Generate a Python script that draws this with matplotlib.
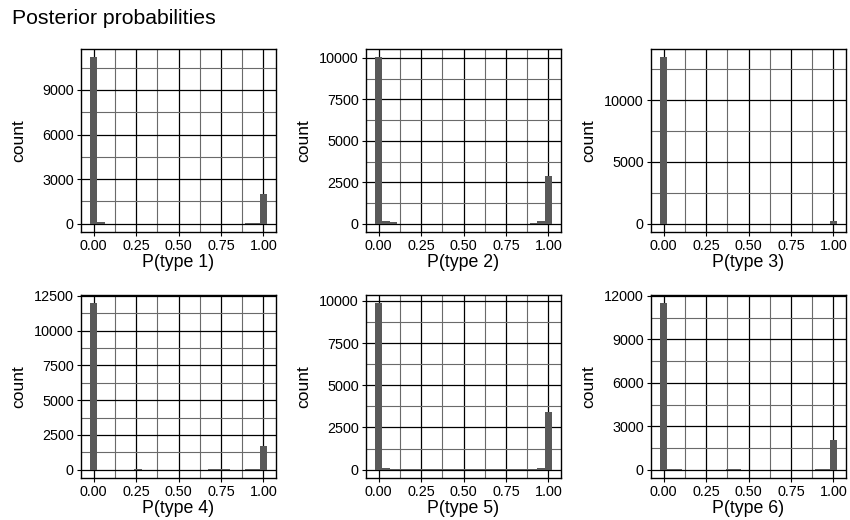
import matplotlib.pyplot as plt
import numpy as np

plt.rcParams['font.family'] = ['Liberation Sans', 'DejaVu Sans']

# 24 bins, centred on k/23
n_bins = 24
bin_width = 1 / 23
bin_centers = np.arange(n_bins) / 23

# counts per bin
counts_type1 = [11200, 90, 10, 5, 5, 5, 5, 5, 5, 5, 5, 5,
                5, 5, 5, 5, 5, 5, 5, 5, 10, 15, 70, 2030]
counts_type2 = [10040, 150, 80, 10, 5, 5, 5, 5, 5, 5, 5, 5,
                5, 5, 5, 5, 5, 5, 5, 10, 10, 20, 150, 2900]
counts_type3 = [13480, 5, 3, 3, 3, 3, 3, 3, 3, 3, 3, 3,
                3, 3, 3, 3, 3, 3, 3, 3, 3, 3, 5, 250]
counts_type4 = [11970, 10, 5, 5, 5, 5, 15, 5, 5, 5, 5, 5,
                5, 5, 5, 5, 15, 20, 15, 10, 10, 15, 20, 1725]
counts_type5 = [9850, 100, 30, 25, 20, 20, 20, 20, 20, 20, 20, 20,
                20, 20, 20, 20, 20, 20, 20, 20, 25, 30, 100, 3410]
counts_type6 = [11490, 20, 15, 10, 10, 10, 10, 10, 10, 15, 15, 10,
                10, 10, 10, 10, 10, 10, 10, 10, 10, 15, 20, 2070]

all_counts = [counts_type1, counts_type2, counts_type3,
              counts_type4, counts_type5, counts_type6]
x_labels = ["P(type 1)", "P(type 2)", "P(type 3)",
            "P(type 4)", "P(type 5)", "P(type 6)"]
y_breaks = [
    [0, 3000, 6000, 9000],
    [0, 2500, 5000, 7500, 10000],
    [0, 5000, 10000],
    [0, 2500, 5000, 7500, 10000, 12500],
    [0, 2500, 5000, 7500, 10000],
    [0, 3000, 6000, 9000, 12000],
]
x_breaks = [0, 0.25, 0.5, 0.75, 1.0]
x_tick_labels = ["0.00", "0.25", "0.50", "0.75", "1.00"]

W, H = 850, 520
fig = plt.figure(figsize=(W / 100, H / 100), dpi=100)

# panel boxes in pixels: left, top
lefts = [81, 366, 651]
tops = [49, 295]
pw, ph = 195, 183

fig.text(12 / W, 1 - 18 / H, "Posterior probabilities", fontsize=15.3,
         va='center', ha='left')

for i, counts in enumerate(all_counts):
    row, col = divmod(i, 3)
    l, t = lefts[col], tops[row]
    ax = fig.add_axes([l / W, 1 - (t + ph) / H, pw / W, ph / H])

    xlo = -bin_width / 2
    xhi = 1 + bin_width / 2
    xpad = (xhi - xlo) * 0.05
    ymax = max(counts)
    ax.set_xlim(xlo - xpad, xhi + xpad)
    ax.set_ylim(-ymax * 0.05, ymax * 1.05)

    # gridlines (theme_linedraw look)
    yb = y_breaks[i]
    step = yb[1] - yb[0]
    for v in x_breaks:
        ax.axvline(v, color='black', lw=0.9, zorder=1)
    for v in np.arange(0.125, 1.0, 0.25):
        ax.axvline(v, color='#6a6a6a', lw=0.8, zorder=1)
    for v in yb:
        ax.axhline(v, color='black', lw=0.9, zorder=1)
    m = step / 2
    while m < ymax * 1.05:
        ax.axhline(m, color='#6a6a6a', lw=0.8, zorder=1)
        m += step

    ax.bar(bin_centers, counts, width=bin_width, color='#595959', zorder=2)

    ax.set_xticks(x_breaks)
    ax.set_xticklabels(x_tick_labels)
    ax.set_yticks(yb)
    ax.set_yticklabels([str(v) for v in yb])
    ax.tick_params(direction='out', length=3.2, width=0.8, color='black',
                   labelsize=10.4, pad=2, labelcolor='black')
    for s in ax.spines.values():
        s.set_color('black')
        s.set_linewidth(1.0)
        s.set_zorder(3)
    ax.set_xlabel(x_labels[i], fontsize=12.8, labelpad=0.5)
    ax.set_ylabel("count", fontsize=12.5, va='center')
    # same column -> same label position, as in the facetted original
    ax.yaxis.set_label_coords(-62 / pw, 0.5)

fig.savefig("out.png", dpi=100)
